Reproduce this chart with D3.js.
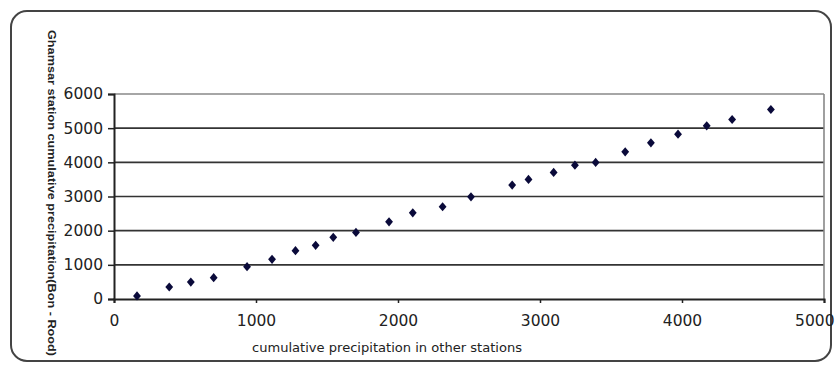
<!DOCTYPE html>
<html>
<head>
<meta charset="utf-8">
<script src="https://cdn.jsdelivr.net/npm/d3@7"></script>
<style>
html,body{margin:0;padding:0;background:#fff;}
svg{display:block;}
</style>
</head>
<body>
<svg id="chart" width="835" height="365"></svg>
<script>
const xValues = [162, 389, 541, 702, 937, 1113, 1278, 1420, 1544, 1704, 1937, 2104, 2314, 2514, 2804, 2919, 3096, 3246, 3392, 3600, 3781, 3972, 4174, 4353, 4626];
const yValues = [90, 351, 497, 623, 945, 1160, 1413, 1570, 1804, 1950, 2260, 2524, 2700, 2990, 3333, 3500, 3704, 3918, 3997, 4308, 4571, 4825, 5068, 5254, 5546];
const xTicks = [0, 1000, 2000, 3000, 4000, 5000];
const yTicks = [0, 1000, 2000, 3000, 4000, 5000, 6000];
const xTitle = "cumulative precipitation in other stations";
const yTitle = "Ghamsar station cumulative precipitation(Bon - Rood)";

const svg = d3.select("#chart");
const plotLeft = 114, plotRight = 824, plotTop = 94, plotBottom = 299;

// outer rounded frame
svg.append("rect").attr("x", 11).attr("y", 11).attr("width", 820).attr("height", 350)
  .attr("rx", 16).attr("ry", 16).attr("fill", "#fff").attr("stroke", "#444").attr("stroke-width", 2);

const x = d3.scaleLinear().domain([0, 5000]).range([plotLeft, plotRight]);
const y = d3.scaleLinear().domain([0, 6000]).range([plotBottom, plotTop]);

// gridlines
svg.append("g").selectAll("line").data(yTicks.filter(d => d > 0)).join("line")
  .attr("x1", plotLeft).attr("x2", plotRight)
  .attr("y1", d => y(d)).attr("y2", d => y(d))
  .attr("stroke", d => d === 6000 ? "#888" : "#333").attr("stroke-width", 1.6);
// right border of plot
svg.append("line").attr("x1", plotRight).attr("x2", plotRight).attr("y1", plotTop).attr("y2", plotBottom)
  .attr("stroke", "#888").attr("stroke-width", 1.6);

// axes
const yAxis = svg.append("g").attr("transform", `translate(${plotLeft},0)`)
  .call(d3.axisLeft(y).tickValues(yTicks).tickSize(6).tickPadding(5).tickFormat(d3.format("d")));
const xAxis = svg.append("g").attr("transform", `translate(0,${plotBottom})`)
  .call(d3.axisBottom(x).tickValues(xTicks).tickSize(4).tickPadding(12).tickFormat(d3.format("d")));
[yAxis, xAxis].forEach(g => {
  g.select(".domain").attr("stroke", "#222").attr("stroke-width", 2);
  g.selectAll(".tick line").attr("stroke", "#222").attr("stroke-width", 1.5);
  g.selectAll("text").attr("font-family", "DejaVu Sans, Verdana, sans-serif")
    .attr("font-size", 15.5).attr("fill", "#222");
});
// keep the last x label inside the frame (right-aligned at the edge)
xAxis.selectAll(".tick").filter(d => d === 5000).select("text")
  .attr("text-anchor", "end").attr("x", 834 - x(5000));

// points
svg.append("g").selectAll("path").data(xValues.map((v, i) => [v, yValues[i]])).join("path")
  .attr("transform", d => `translate(${x(d[0])},${y(d[1])}) scale(1.25,0.85)`)
  .attr("d", d3.symbol().type(d3.symbolDiamond).size(34))
  .attr("fill", "#0a0a3a");

// titles
svg.append("text").attr("x", 387).attr("y", 352).attr("text-anchor", "middle")
  .attr("font-family", "DejaVu Sans, Verdana, sans-serif").attr("font-size", 12.5)
  .attr("fill", "#222").attr("textLength", 270).attr("lengthAdjust", "spacingAndGlyphs")
  .text(xTitle);
svg.append("text").attr("transform", "translate(48,193) rotate(90)").attr("text-anchor", "middle")
  .attr("font-family", "Liberation Sans Narrow, Liberation Sans, Arial, sans-serif").attr("font-size", 10.5)
  .attr("font-weight", "bold").attr("fill", "#222").attr("textLength", 326).attr("lengthAdjust", "spacingAndGlyphs")
  .text(yTitle);
</script>
</body>
</html>
